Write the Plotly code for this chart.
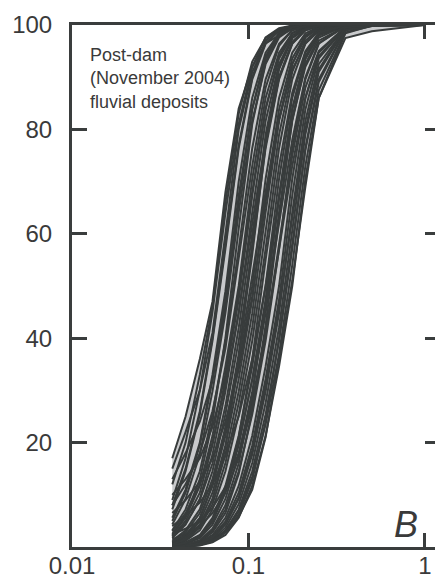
import plotly.graph_objects as go

# Sieve openings (mm) and cumulative percent finer for each sample
sieve_mm = [0.037, 0.044, 0.053, 0.0625, 0.074, 0.088, 0.105, 0.125, 0.149,
            0.177, 0.21, 0.25, 0.354, 0.5, 1.0]

s01 = [17, 25, 36, 47, 68, 84, 92, 96.5, 98, 99.2, 99.5, 99.7, 99.9, 100, 100]
s02 = [12, 20, 33, 46, 66, 83, 93, 97.5, 99.2, 99.8, 100, 100, 100, 100, 100]
s03 = [15, 22, 30, 41, 60, 80, 91, 96.5, 98.8, 99.6, 99.9, 100, 100, 100, 100]
s04 = [9, 17, 30, 45, 64, 81, 92, 97.6, 99.4, 99.9, 100, 100, 100, 100, 100]
s05 = [8, 15, 26, 40, 58, 77, 90, 97, 99.2, 99.8, 100, 100, 100, 100, 100]
s06 = [7.2, 14.5, 25.4, 39.5, 57.1, 76.4, 89.6, 96.4, 99.0, 99.8, 100, 100, 100, 100, 100]
s07 = [13, 18, 24, 32, 46, 66, 84, 94, 98.5, 99.6, 100, 100, 100, 100, 100]
s08 = [5.6, 11, 20, 33, 49, 70, 86, 94.7, 98.4, 99.6, 99.9, 100, 100, 100, 100]
s09 = [5, 10.4, 19.5, 32, 47.4, 67.3, 83.8, 93.6, 98, 99.5, 99.9, 100, 100, 100, 100]
s10 = [4.3, 9.2, 17.7, 29.8, 44.8, 64.1, 81.6, 92.5, 97.6, 99.4, 99.9, 100, 100, 100, 100]
s11 = [2.5, 6, 13, 24, 40, 61, 81, 93, 98, 99.6, 100, 100, 100, 100, 100]
s12 = [3.2, 7.2, 14.5, 25.4, 39.5, 57.1, 76.4, 89.6, 96.4, 99.0, 99.8, 100, 100, 100, 100]
s13 = [10, 13, 17, 23, 33, 49, 68, 84, 94, 98.5, 99.6, 100, 100, 100, 100]
s14 = [2.3, 5.6, 11.7, 21.3, 34.6, 50, 70.5, 86, 94.7, 98.4, 99.6, 99.9, 100, 100, 100]
s15 = [2, 5, 10.4, 19.5, 32.2, 47.4, 67.3, 83.8, 93.6, 98, 99.5, 99.9, 100, 100, 100]
s16 = [1.7, 4.3, 9.2, 17.7, 29.8, 44.8, 64.1, 81.6, 92.5, 97.6, 99.4, 99.9, 100, 100, 100]
s17 = [0.8, 2.2, 5.5, 12, 22.5, 37, 56, 77, 91.5, 97.5, 99.4, 99.9, 100, 100, 100]
s18 = [1.2, 3.2, 7.2, 14.5, 25.4, 39.5, 57.1, 76.4, 89.6, 96.4, 99.0, 99.8, 100, 100, 100]
s19 = [6.5, 9, 12.5, 17, 24, 34, 48, 66, 82, 92.5, 97.8, 99.5, 100, 100, 100]
s20 = [0.9, 2.3, 5.6, 11.7, 21.3, 34.6, 50, 70.5, 86, 94.7, 98.4, 99.6, 100, 100, 100]
s21 = [0.75, 2, 4.9, 10.4, 19.5, 32.2, 47.4, 67.3, 83.8, 93.6, 98, 99.5, 100, 100, 100]
s22 = [0.6, 1.7, 4.3, 9.2, 17.7, 29.8, 44.8, 64.1, 81.6, 92.5, 97.6, 99.4, 100, 100, 100]
s23 = [0.5, 1.4, 3.7, 8.2, 16.1, 27.6, 42.1, 60.6, 79, 91, 97, 99.2, 100, 100, 100]
s24 = [0.4, 1.2, 3.2, 7.2, 14.5, 25.4, 39.5, 57.1, 76.4, 89.6, 96.4, 99.0, 100, 100, 100]
s25 = [4, 6, 8.5, 12, 17.5, 25, 36, 50, 67, 82, 92, 97, 99.7, 100, 100]
s26 = [0.3, 0.9, 2.3, 5.6, 11.7, 21.3, 34.6, 50, 70.5, 86, 94.7, 98.4, 99.9, 100, 100]
s27 = [0.25, 0.75, 2, 4.9, 10.4, 19.5, 32.2, 47.4, 67.3, 83.8, 93.6, 98, 99.9, 100, 100]
s28 = [0.2, 0.6, 1.7, 4.3, 9.2, 17.7, 29.8, 44.8, 64.1, 81.6, 92.5, 97.6, 99.9, 100, 100]
s29 = [0, 0.3, 1, 2.8, 6.5, 14, 26, 42.5, 63, 82, 93.5, 98.2, 99.9, 100, 100]
s30 = [0.1, 0.4, 1.2, 3.2, 7.2, 14.5, 25.4, 39.5, 57.1, 76.4, 89.6, 96.4, 99.8, 100, 100]
s31 = [2.5, 3.5, 5, 7.5, 11.5, 18, 28, 41, 57, 73, 86, 94, 99.5, 100, 100]
s32 = [0, 0.3, 0.9, 2.3, 5.6, 11.7, 21.3, 34.6, 50, 70.5, 86, 94.7, 99.6, 100, 100]
s33 = [0, 0.25, 0.75, 2, 4.9, 10.4, 19.5, 32.2, 47.4, 67.3, 83.8, 93.6, 99.5, 100, 100]
s34 = [0, 0.2, 0.6, 1.7, 4.3, 9.2, 17.7, 29.8, 44.8, 64.1, 81.6, 92.5, 99.4, 100, 100]
s35 = [0, 0.15, 0.5, 1.4, 3.7, 8.2, 16.1, 27.6, 42.1, 60.6, 79, 91, 99.2, 99.9, 100]
s36 = [0, 0.1, 0.4, 1.2, 3.2, 7.2, 14.5, 25.4, 39.5, 57.1, 76.4, 89.6, 99.0, 99.8, 100]
s37 = [0, 0.1, 0.5, 1.2, 3, 6.8, 13.5, 23.5, 37, 54, 73, 87.5, 98.6, 99.8, 100]
s38 = [0, 0, 0.3, 0.9, 2.3, 5.6, 11.7, 21.3, 34.6, 50, 70.5, 86, 98.4, 99.9, 100]
s39 = [1.5, 2.5, 4, 6.5, 10.5, 17, 27, 41, 58, 75, 88, 95, 99.6, 100, 100]
s40 = [0, 0.2, 0.5, 1, 2.8, 5.8, 11, 21, 36, 51, 69, 86, 97.5, 98.8, 100]
s41 = [3, 6.5, 12, 20, 31, 45, 62, 78, 90, 96.5, 99, 99.8, 100, 100, 100]
s42 = [0.5, 1.5, 4, 9, 19, 36, 58, 79, 92, 97.5, 99.3, 99.8, 100, 100, 100]
s43 = [1, 2.8, 6.5, 13, 23, 36, 52, 68, 82, 91.5, 96.5, 98.8, 99.9, 100, 100]
s44 = [0, 0.4, 1.3, 3.5, 8, 16, 29, 47, 67, 84, 94, 98.4, 99.9, 100, 100]
s45 = [0.2, 0.7, 2, 5, 11, 21, 36, 55, 73, 87, 95, 98.5, 99.9, 100, 100]
s46 = [8, 12, 18, 26, 38, 55, 73, 88, 96, 99, 99.8, 100, 100, 100, 100]
s47 = [0, 0.1, 0.4, 1.1, 2.8, 6.2, 12.8, 24, 40, 58, 76, 89, 99, 99.9, 100]
s48 = [0.3, 0.8, 2.2, 5.2, 11, 20, 32, 46, 62, 78, 90, 96.5, 99.8, 100, 100]
s49 = [2, 4.5, 9, 16, 27, 42, 60, 77, 90, 96.8, 99.2, 99.9, 100, 100, 100]
s50 = [0, 0.2, 0.7, 1.8, 4.5, 9.5, 18.5, 31, 46, 63, 80, 91.5, 99.5, 100, 100]

samples = [s01, s02, s03, s04, s05, s06, s07, s08, s09, s10,
           s11, s12, s13, s14, s15, s16, s17, s18, s19, s20,
           s21, s22, s23, s24, s25, s26, s27, s28, s29, s30,
           s31, s32, s33, s34, s35, s36, s37, s38, s39, s40,
           s41, s42, s43, s44, s45, s46, s47, s48, s49, s50]

x_ticks = [0.01, 0.1, 1]
x_tick_text = ["0.01", "0.1", "1"]
y_ticks = [20, 40, 60, 80, 100]

INK = "#383c3c"
AXIS = "#3a3d3d"
SHADE = "#c9cacc"
FONT = "Liberation Sans, Arial, Helvetica, sans-serif"

fig = go.Figure()

# light envelope behind the family of curves
finest = [max(c[i] for c in samples) for i in range(len(sieve_mm))]
coarsest = [min(c[i] for c in samples) for i in range(len(sieve_mm))]
fig.add_trace(go.Scatter(
    x=sieve_mm + sieve_mm[::-1], y=finest + coarsest[::-1],
    fill="toself", fillcolor=SHADE, mode="lines",
    line=dict(width=0, color=SHADE), hoverinfo="skip", showlegend=False))

for c in samples:
    fig.add_trace(go.Scatter(
        x=sieve_mm, y=c, mode="lines",
        line=dict(color=INK, width=2.0), hoverinfo="skip", showlegend=False))

# carrier for the right-hand tick marks
fig.add_trace(go.Scatter(x=[0.5], y=[50], yaxis="y2", mode="markers",
                         marker=dict(opacity=0), hoverinfo="skip",
                         showlegend=False))

fig.update_layout(
    width=435, height=587,
    margin=dict(l=72, r=0, t=25, b=40),
    paper_bgcolor="white", plot_bgcolor="white",
    font=dict(family=FONT, color="#3a3a3a"),
    xaxis=dict(type="log", range=[-2, 0.0567],
               tickvals=x_ticks, ticktext=x_tick_text,
               ticks="inside", ticklen=14, tickwidth=2.5, tickcolor=AXIS,
               showline=True, linewidth=3, linecolor=AXIS, mirror="ticks",
               showgrid=False, zeroline=False,
               tickfont=dict(size=24, family=FONT, color="#3a3a3a"),
               ticklabelstandoff=-5),
    yaxis=dict(range=[0, 100], tickvals=y_ticks,
               ticks="inside", ticklen=15, tickwidth=2.5, tickcolor=AXIS,
               showline=True, linewidth=3, linecolor=AXIS,
               showgrid=False, zeroline=False,
               tickfont=dict(size=24, family=FONT, color="#3a3a3a"),
               ticklabelstandoff=12),
    yaxis2=dict(range=[0, 100], overlaying="y", side="right",
                tickvals=y_ticks[:-1], ticks="inside", ticklen=10,
                tickwidth=2.5, tickcolor=AXIS, showticklabels=False,
                showline=False, showgrid=False, zeroline=False),
    annotations=[
        dict(text="Post-dam<br>(November 2004)<br>fluvial deposits",
             xref="paper", yref="paper", x=0.044, y=0.965,
             xanchor="left", yanchor="top", align="left", showarrow=False,
             font=dict(size=18, family=FONT, color="#3a3a3a")),
        dict(text="<i>B</i>", xref="paper", yref="paper", x=0.96, y=0.0,
             xanchor="right", yanchor="bottom", showarrow=False,
             font=dict(size=36, family=FONT, color="#3a3a3a")),
    ],
)

fig.write_html("out.html")
